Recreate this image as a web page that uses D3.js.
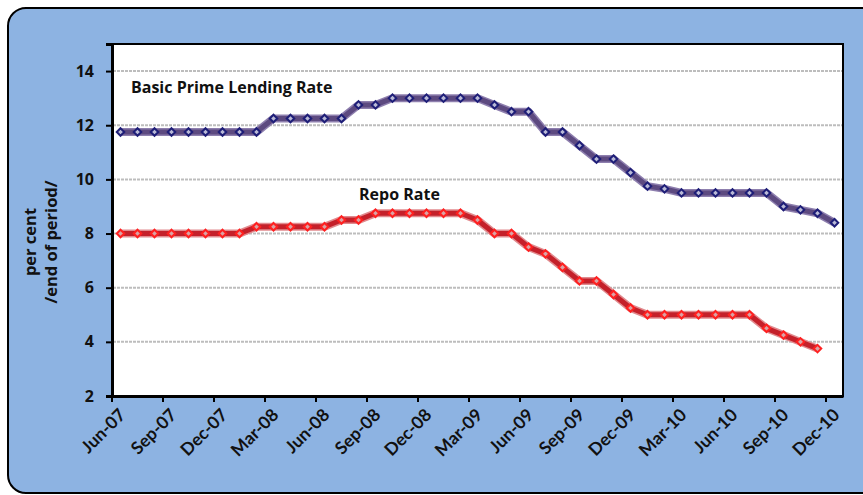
<!DOCTYPE html>
<html><head><meta charset="utf-8">
<script src="https://cdn.jsdelivr.net/npm/d3@7"></script>
<style>body{margin:0;background:#fff}svg{display:block}</style>
</head><body>
<svg id="c" width="863" height="495"></svg>
<script>
const months = [
 "Jun-07","Jul-07","Aug-07","Sep-07","Oct-07","Nov-07","Dec-07",
 "Jan-08","Feb-08","Mar-08","Apr-08","May-08","Jun-08","Jul-08","Aug-08","Sep-08","Oct-08","Nov-08","Dec-08",
 "Jan-09","Feb-09","Mar-09","Apr-09","May-09","Jun-09","Jul-09","Aug-09","Sep-09","Oct-09","Nov-09","Dec-09",
 "Jan-10","Feb-10","Mar-10","Apr-10","May-10","Jun-10","Jul-10","Aug-10","Sep-10","Oct-10","Nov-10","Dec-10"];
const xTickLabels = ["Jun-07","Sep-07","Dec-07","Mar-08","Jun-08","Sep-08","Dec-08","Mar-09","Jun-09","Sep-09","Dec-09","Mar-10","Jun-10","Sep-10","Dec-10"];
const bplr = [11.75,11.75,11.75,11.75,11.75,11.75,11.75,11.75,11.75,
 12.25,12.25,12.25,12.25,12.25,12.75,12.75,13,13,13,13,13,13,12.75,12.5,12.5,
 11.75,11.75,11.25,10.75,10.75,10.25,9.75,9.65,9.5,9.5,9.5,9.5,9.5,9.5,9.0,8.875,8.75,8.4];
const repo = [8,8,8,8,8,8,8,8,8.25,8.25,8.25,8.25,8.25,8.5,8.5,
 8.75,8.75,8.75,8.75,8.75,8.75,8.5,8,8,7.5,7.25,6.75,6.25,6.25,5.75,5.25,
 5,5,5,5,5,5,5,4.5,4.25,4,3.75];
const yTicks = [2,4,6,8,10,12,14];

const svg = d3.select("#c");
const F = "'Open Sans', Lato, sans-serif";
const F2 = "Lato, 'Open Sans', sans-serif";
svg.append("rect").attr("x",8).attr("y",8).attr("width",890).attr("height",485)
  .attr("rx",18).attr("fill","#8DB3E2").attr("stroke","#000").attr("stroke-width",2);

const L=112, R=843, T=44, B=396;
const x = d3.scaleBand().domain(months).range([L,R]);
const y = d3.scaleLinear().domain([2,15]).range([B,T]);
const cx = m => x(m)+x.bandwidth()/2;

svg.append("rect").attr("x",L).attr("y",T).attr("width",R-L).attr("height",B-T)
  .attr("fill","#fff").attr("stroke","#000").attr("stroke-width",2);

// grid
svg.append("g").selectAll("line").data(yTicks.filter(d=>d>2)).join("line")
  .attr("x1",L+1).attr("x2",R-1).attr("y1",d=>y(d)).attr("y2",d=>y(d))
  .attr("stroke","#BDBDBD").attr("stroke-width",2).attr("stroke-dasharray","3,1");

// y axis
const ya = svg.append("g").attr("transform",`translate(${L},0)`)
  .call(d3.axisLeft(y).tickValues(yTicks).tickSize(6).tickPadding(12).tickFormat(d3.format("d")));
ya.select(".domain").attr("stroke","#000").attr("stroke-width",3);
ya.selectAll(".tick line").attr("stroke","#000").attr("stroke-width",2);
ya.selectAll("text").attr("font-family",F).attr("font-weight","bold").attr("font-size",16).attr("fill","#111");

// x axis
const xa = svg.append("g").attr("transform",`translate(0,${B})`)
  .call(d3.axisBottom(x).tickValues(xTickLabels).tickSize(0).tickFormat(d=>d));
xa.select(".domain").attr("stroke","#000").attr("stroke-width",3);
xa.selectAll(".tick text").attr("font-family",F2).attr("font-weight","bold").attr("font-size",17.5)
  .attr("fill","#111").attr("text-anchor","end").attr("dy",0)
  .attr("transform","translate(4,18) rotate(-45)");
// tick marks at category boundaries
svg.append("g").selectAll("line").data(xTickLabels).join("line")
  .attr("x1",d=>x(d)).attr("x2",d=>x(d)).attr("y1",B).attr("y2",B+6)
  .attr("stroke","#000").attr("stroke-width",2);

// y title
const yt = svg.append("text").attr("transform","translate(37,242) rotate(-90)")
  .attr("text-anchor","middle").attr("font-family",F).attr("font-weight","bold").attr("font-size",16.5).attr("fill","#111");
yt.append("tspan").attr("x",0).attr("dy",-1).text("per cent");
yt.append("tspan").attr("x",0).attr("dy",21).text("/end of period/");

function series(data, outer, inner, mStroke, mFill){
  const pts = data.map((v,i)=>[cx(months[i]), y(v)]);
  const line = d3.line();
  svg.append("path").attr("d",line(pts)).attr("fill","none").attr("stroke",outer)
    .attr("stroke-width",8).attr("stroke-linejoin","round");
  svg.append("path").attr("d",line(pts)).attr("fill","none").attr("stroke",inner)
    .attr("stroke-width",5).attr("stroke-linejoin","round");
  svg.append("g").selectAll("path").data(pts).join("path")
    .attr("d",d3.symbol(d3.symbolDiamond2,36)())
    .attr("transform",d=>`translate(${d[0]},${d[1]})`)
    .attr("fill",mFill).attr("stroke",mStroke).attr("stroke-width",2);
}
series(bplr, "#8E7FAE", "#5D4A80", "#1E1E78", "#B9B9D6");
series(repo, "#E28A8E", "#C4202A", "#FF2020", "#D9A3A5");

svg.append("text").attr("x",131).attr("y",93).attr("font-family",F).attr("font-weight","bold")
  .attr("font-size",16).attr("fill","#111").text("Basic Prime Lending Rate");
svg.append("text").attr("x",359).attr("y",200).attr("font-family",F).attr("font-weight","bold")
  .attr("font-size",16).attr("fill","#111").text("Repo Rate");
</script>
</body></html>
